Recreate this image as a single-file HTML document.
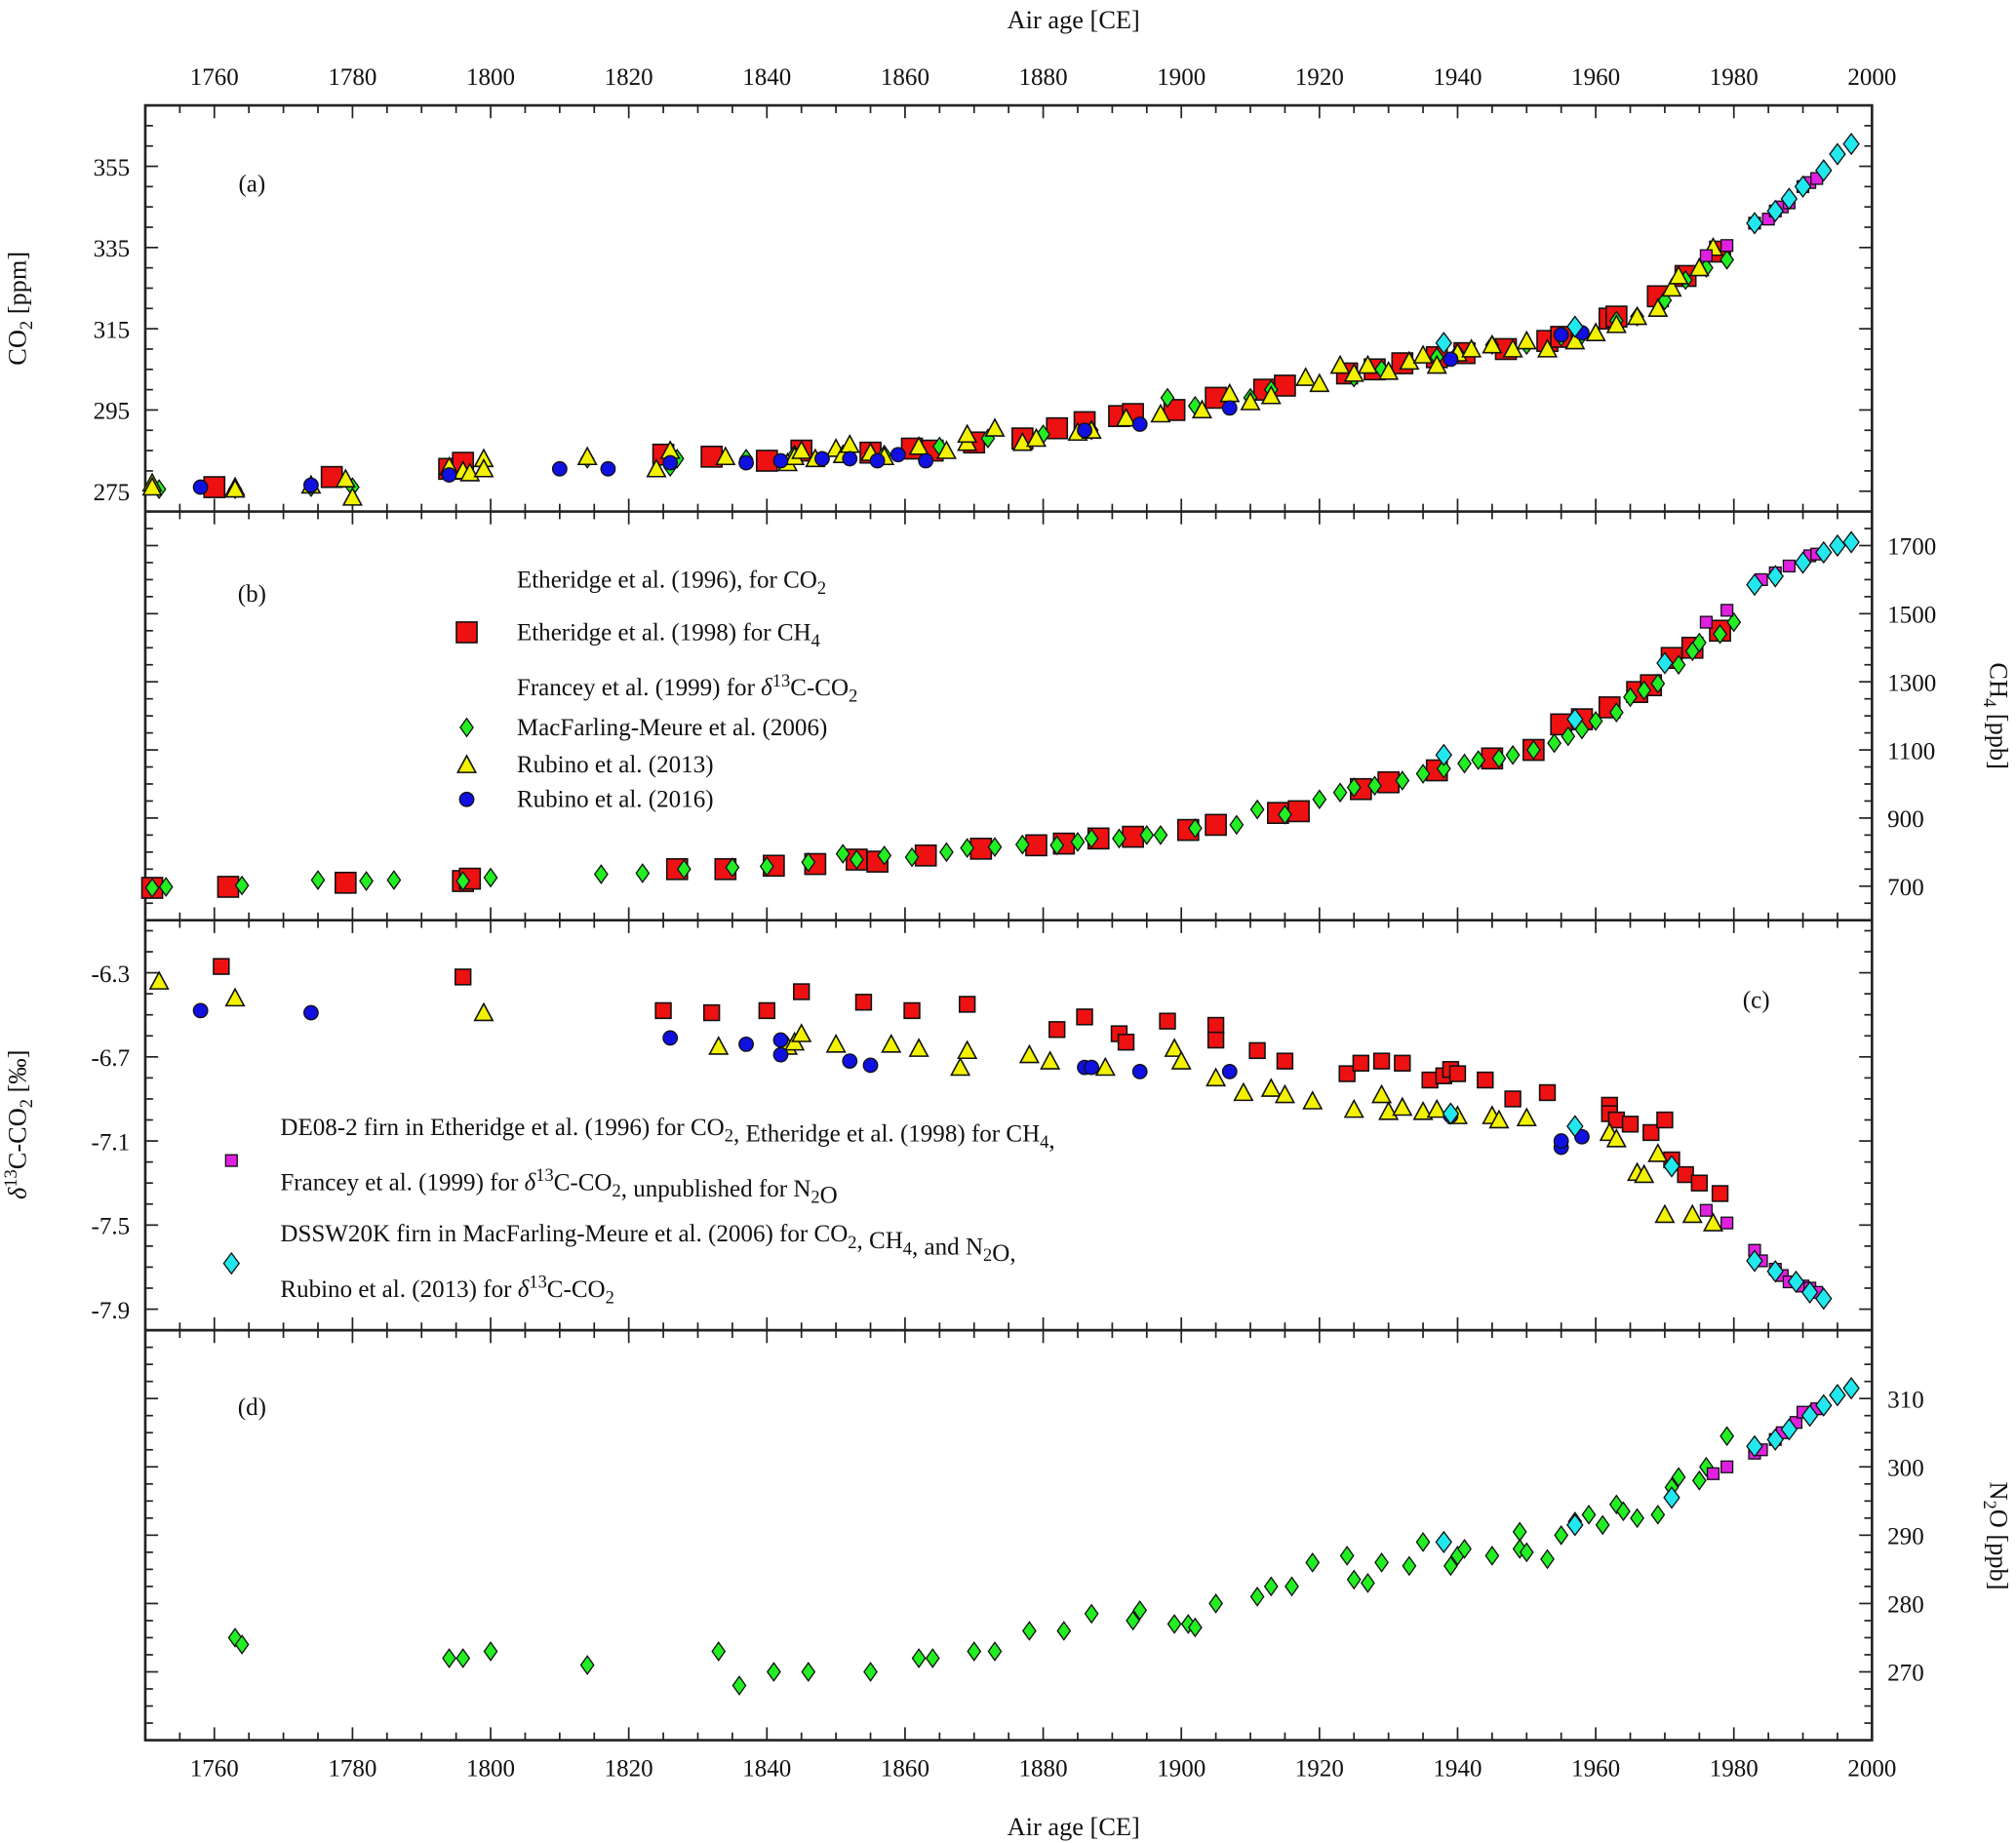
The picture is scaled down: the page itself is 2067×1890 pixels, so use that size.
<!DOCTYPE html>
<html><head><meta charset="utf-8"><style>
html,body{margin:0;padding:0;background:#fff;}
svg{display:block;font-family:"Liberation Serif",serif;}
</style></head><body>
<svg id="chart" width="2067" height="1890" viewBox="0 0 1568 1434" preserveAspectRatio="none" xmlns="http://www.w3.org/2000/svg">
<rect x="0" y="0" width="1568" height="1434" fill="#fff"/>
<g id="layer"></g>
</svg>
<script>
// ---- data ----
const aRedX=[1760,1777,1794,1796,1825,1832,1840,1845,1855,1861,1864,1870,1877,1882,1886,1891,1893,1899,1905,1912,1915,1924,1928,1932,1937,1941,1947,1953,1955,1962,1963,1969,1973,1978];
const aRedY=[276,278.5,280.5,282,284,283.5,282.5,285,284.5,285.5,285,287,288,290.5,292,293.5,294,295,298,300,301,304,305,306.5,308,309,310,312,313,317.5,318,323,328,334];
const aYelX=[1751,1751,1763,1763,1774,1779,1780,1794,1796,1797,1799,1799,1814,1824,1826,1834,1843,1844,1845,1847,1850,1851,1852,1855,1857,1862,1866,1869,1869,1873,1877,1879,1885,1887,1892,1897,1903,1907,1910,1913,1918,1920,1923,1925,1927,1930,1933,1935,1937,1940,1942,1945,1948,1950,1953,1957,1960,1963,1966,1969,1971,1972,1975,1977];
const aYelY=[277,276,276,275.5,276.5,278,273.5,281,280,279.5,283,280.5,283.5,280.5,285,283.5,282,283.5,285,283,285.5,284,286.5,284.5,283.5,286,285,287,289,290.5,287,288,289.5,290,293,294,295,299,297,298.5,303,301.5,306,304,306,304.5,307,308.5,306,309,310,311,310,312,310,312,314,316,318,320,325,328,330,335];
const aGrnX=[1752,1763,1774,1780,1814,1826,1827,1837,1844,1852,1857,1865,1872,1880,1887,1898,1902,1910,1913,1925,1929,1937,1940,1945,1950,1955,1958,1963,1966,1970,1973,1976,1979];
const aGrnY=[275.5,275.5,276,276,283,281,283,283,284,285,284,286,288,289,290,298,296,298,300,303,305,308,309,311,311,313,313.5,317,318,322,327,330,332];
const aBluX=[1758,1774,1794,1810,1817,1826,1837,1842,1848,1852,1856,1859,1863,1886,1894,1907,1939,1955,1958];
const aBluY=[276,276.5,279,280.5,280.5,282,282,282.5,283,283,282.5,284,282.5,290,291.5,295.5,307.5,313.5,314];
const aCyaX=[1938,1957,1983,1986,1988,1990,1993,1995,1997];
const aCyaY=[311.5,315.5,341,344,347,350,354,358,360.5];
const aMagX=[1976,1979,1983,1985,1986,1987,1988,1990,1991,1992];
const aMagY=[333,335.5,341,342,344,345,346,350,351,352];

const bRedX=[1751,1762,1779,1796,1797,1827,1834,1841,1847,1853,1856,1863,1871,1879,1883,1888,1893,1901,1905,1914,1917,1926,1930,1937,1945,1951,1955,1958,1962,1966,1968,1971,1974,1978];
const bRedY=[695,698,710,715,722,750,750,760,765,778,772,790,810,820,825,840,845,865,880,915,920,985,1005,1040,1075,1100,1175,1190,1225,1270,1290,1370,1400,1450];
const bGrnX=[1751,1753,1764,1775,1782,1786,1796,1800,1816,1822,1828,1835,1840,1846,1851,1853,1857,1861,1866,1869,1873,1877,1882,1885,1887,1891,1895,1897,1902,1908,1911,1915,1920,1923,1925,1928,1932,1935,1938,1941,1943,1946,1948,1951,1954,1956,1958,1960,1963,1965,1967,1969,1972,1974,1975,1978,1980];
const bGrnY=[695,698,702,718,715,718,715,725,735,738,750,755,758,770,795,778,790,785,800,812,815,822,820,830,840,840,850,850,870,880,925,910,955,975,990,995,1010,1030,1045,1060,1070,1075,1085,1100,1120,1140,1160,1185,1210,1255,1275,1295,1350,1390,1415,1440,1475];
const bCyaX=[1938,1957,1970,1983,1986,1990,1993,1995,1997];
const bCyaY=[1085,1190,1355,1585,1610,1650,1680,1700,1710];
const bMagX=[1976,1979,1984,1986,1988,1991,1992];
const bMagY=[1475,1510,1600,1620,1640,1670,1675];

const cRedX=[1761,1796,1825,1832,1840,1845,1854,1861,1869,1882,1886,1891,1892,1898,1905,1905,1911,1915,1924,1926,1929,1932,1936,1938,1939,1940,1944,1948,1953,1962,1962,1963,1965,1968,1970,1971,1973,1975,1978];
const cRedY=[-6.27,-6.32,-6.48,-6.49,-6.48,-6.39,-6.44,-6.48,-6.45,-6.57,-6.51,-6.59,-6.63,-6.53,-6.55,-6.62,-6.67,-6.72,-6.78,-6.73,-6.72,-6.73,-6.81,-6.79,-6.76,-6.78,-6.81,-6.90,-6.87,-6.93,-6.97,-7.0,-7.02,-7.06,-7.0,-7.19,-7.26,-7.30,-7.35];
const cYelX=[1752,1763,1799,1833,1843,1844,1845,1850,1858,1862,1868,1869,1878,1881,1889,1899,1900,1905,1909,1913,1915,1919,1925,1929,1930,1932,1935,1937,1940,1945,1946,1950,1962,1963,1966,1967,1969,1970,1974,1977];
const cYelY=[-6.34,-6.42,-6.49,-6.65,-6.65,-6.63,-6.59,-6.64,-6.64,-6.66,-6.75,-6.67,-6.69,-6.72,-6.75,-6.66,-6.72,-6.80,-6.87,-6.85,-6.88,-6.91,-6.95,-6.88,-6.96,-6.94,-6.96,-6.95,-6.98,-6.98,-7.0,-6.99,-7.06,-7.09,-7.25,-7.26,-7.16,-7.45,-7.45,-7.49];
const cBluX=[1758,1774,1826,1837,1842,1842,1852,1855,1886,1887,1894,1907,1939,1955,1955,1958];
const cBluY=[-6.48,-6.49,-6.61,-6.64,-6.62,-6.69,-6.72,-6.74,-6.75,-6.75,-6.77,-6.77,-6.98,-7.13,-7.1,-7.08];
const cCyaX=[1939,1957,1971,1983,1986,1989,1991,1993];
const cCyaY=[-6.97,-7.03,-7.22,-7.67,-7.72,-7.77,-7.82,-7.85];
const cMagX=[1976,1979,1983,1984,1986,1987,1988,1990,1991,1992];
const cMagY=[-7.43,-7.49,-7.62,-7.67,-7.71,-7.74,-7.77,-7.79,-7.80,-7.82];

const dGrnX=[1763,1764,1794,1796,1800,1814,1833,1836,1841,1846,1855,1862,1864,1870,1873,1878,1883,1887,1893,1894,1899,1901,1902,1905,1911,1913,1916,1919,1924,1925,1927,1929,1933,1935,1939,1940,1941,1945,1949,1949,1950,1953,1955,1957,1959,1961,1963,1964,1966,1969,1971,1972,1975,1976,1979];
const dGrnY=[275,274,272,272,273,271,273,268,270,270,270,272,272,273,273,276,276,278.5,277.5,279,277,277,276.5,280,281,282.5,282.5,286,287,283.5,283,286,285.5,289,285.5,287,288,287,290.5,288,287.5,286.5,290,292,293,291.5,294.5,293.5,292.5,293,297,298.5,298,300,304.5];
const dCyaX=[1938,1957,1971,1983,1986,1988,1991,1993,1995,1997];
const dCyaY=[289,291.5,295.5,303,304,305.5,307.5,309,310.5,311.5];
const dMagX=[1977,1979,1983,1984,1986,1987,1989,1990,1992];
const dMagY=[299,300,302,302.5,304,305,306.5,308,308.5];

const xTickLabels=[1760,1780,1800,1820,1840,1860,1880,1900,1920,1940,1960,1980,2000];
const aTicks=[275,295,315,335,355];
const bTicks=[700,900,1100,1300,1500,1700];
const cTicks=[-6.3,-6.7,-7.1,-7.5,-7.9];
const dTicks=[270,280,290,300,310];

// ---- layout ----
const NS="http://www.w3.org/2000/svg";
const L=113,R=1456;
const X=y=>L+(y-1750)*(R-L)/250;
const panels={
 a:{t:82,b:398,min:270,max:370},
 b:{t:398,b:716,min:600,max:1800},
 c:{t:716,b:1035,min:-8.0,max:-6.05},
 d:{t:1035,b:1354,min:260,max:320}
};
function Yf(p){return v=>p.b-(v-p.min)*(p.b-p.t)/(p.max-p.min);}
const layer=document.getElementById('layer');
function el(tag,attrs,parent){const e=document.createElementNS(NS,tag);for(const k in attrs)e.setAttribute(k,attrs[k]);(parent||layer).appendChild(e);return e;}
function text(x,y,s,anchor,size,parent){const t=el('text',{x:x,y:y,'text-anchor':anchor||'middle','font-size':size||19,fill:'#111'},parent);t.innerHTML=s;return t;}

// frame
const frame=el('rect',{x:L,y:82,width:R-L,height:1354-82,fill:'none',stroke:'#222','stroke-width':2});


['b','c','d'].forEach(k=>{const ln=el('line',{x1:L,x2:R,y1:panels[k].t,y2:panels[k].t,stroke:'#222','stroke-width':2});

});

// x ticks at each boundary
const xt=el('g',{stroke:'#222','stroke-width':1.3});


const bounds=[82,398,716,1035,1354];
for(let yr=1755;yr<=2000;yr+=5){const x=X(yr);const major=yr%20===0;const len=major?10:6;
 bounds.forEach((by,i)=>{if(i<4)el('line',{x1:x,x2:x,y1:by,y2:by+len},xt);if(i>0)el('line',{x1:x,x2:x,y1:by-len,y2:by},xt);});}
const xlT=el('g',{});


const xlB=el('g',{});


xTickLabels.forEach(v=>{text(X(v),66,v,'middle',19,xlT);text(X(v),1382,v,'middle',19,xlB);});
const tt=text(835,22,'Air age [CE]','middle',20);


const bt=text(835,1428,'Air age [CE]','middle',20);



// y axes
function yAxis(p,ticks,minorStep,side,fmt,name){
 const Y=Yf(p);const g=el('g',{stroke:'#222','stroke-width':1.3});
 
 
 const lg=el('g',{});
 
 
 const start=ticks[0];const step=ticks[1]-ticks[0];
 for(let k=-40;k<=80;k++){const v=start+k*minorStep*Math.sign(step);const y=Y(v);if(y<=p.t+1||y>=p.b-1)continue;
  const isMaj=Math.abs(((v-start)/step)-Math.round((v-start)/step))<1e-6;const len=isMaj?10:6;
  el('line',{x1:L,x2:L+len,y1:y,y2:y},g);el('line',{x1:R-len,x2:R,y1:y,y2:y},g);}
 ticks.forEach(v=>{const y=Y(v)+7;if(side==='left')text(L-12,y,fmt(v),'end',19,lg);else text(R+12,y,fmt(v),'start',19,lg);});
}
yAxis(panels.a,aTicks,5,'left',v=>v,'co2-axis');
yAxis(panels.b,bTicks,50,'right',v=>v,'ch4-axis');
yAxis(panels.c,cTicks,0.1,'left',v=>v.toFixed(1),'d13c-axis');
yAxis(panels.d,dTicks,2.5,'right',v=>v,'n2o-axis');

function rotLabel(x,y,ang,html,name){const t=el('text',{x:0,y:0,'text-anchor':'middle','font-size':20,fill:'#111',transform:`translate(${x},${y}) rotate(${ang})`});t.innerHTML=html;
 
 }
rotLabel(20,240,-90,'CO<tspan font-size="14" dy="5">2</tspan><tspan dy="-5"> [ppm]</tspan>','co2-axis-title');
rotLabel(20,875,-90,'<tspan font-style="italic">δ</tspan><tspan font-size="14" dy="-7">13</tspan><tspan dy="7">C-CO</tspan><tspan font-size="14" dy="5">2</tspan><tspan dy="-5"> [‰]</tspan>','d13c-axis-title');
rotLabel(1548,557,90,'CH<tspan font-size="14" dy="5">4</tspan><tspan dy="-5"> [ppb]</tspan>','ch4-axis-title');
rotLabel(1548,1195,90,'N<tspan font-size="14" dy="5">2</tspan><tspan dy="-5">O [ppb]</tspan>','n2o-axis-title');

// panel letters
[['(a)',196,149],['(b)',196,468],['(c)',1366,784],['(d)',196,1101]].forEach(([s,x,y])=>{const t=text(x,y,s,'middle',19);
 
 });

// markers
function mk(type,x,y,sz,parent){
 if(type==='red')return el('rect',{x:x-sz/2,y:y-sz/2,width:sz,height:sz,fill:'#ee1111',stroke:'#111','stroke-width':1.2},parent);
 if(type==='mag')return el('rect',{x:x-4.5,y:y-4.5,width:9,height:9,fill:'#e020e0',stroke:'#111','stroke-width':1},parent);
 if(type==='yel')return el('polygon',{points:`${x-7},${y+6} ${x+7},${y+6} ${x},${y-7}`,fill:'#f2f200',stroke:'#111','stroke-width':1.2},parent);
 if(type==='grn')return el('polygon',{points:`${x},${y-7} ${x+5},${y} ${x},${y+7} ${x-5},${y}`,fill:'#22ee22',stroke:'#111','stroke-width':1},parent);
 if(type==='cya')return el('polygon',{points:`${x},${y-8} ${x+6},${y} ${x},${y+8} ${x-6},${y}`,fill:'#22e8ee',stroke:'#111','stroke-width':1},parent);
 if(type==='blu')return el('circle',{cx:x,cy:y,r:5.5,fill:'#1010e0',stroke:'#111','stroke-width':1},parent);
}
function series(p,type,xs,ys,sz,name){const Y=Yf(p);const g=el('g',{});
 
 
 xs.forEach((v,i)=>{const m=mk(type,X(v),Y(ys[i]),sz,g);
  
  });}
series(panels.a,'red',aRedX,aRedY,16,'co2-etheridge1996');
series(panels.a,'grn',aGrnX,aGrnY,0,'co2-macfarling2006');
series(panels.a,'yel',aYelX,aYelY,0,'co2-rubino2013');
series(panels.a,'blu',aBluX,aBluY,0,'co2-rubino2016');
series(panels.a,'mag',aMagX,aMagY,0,'co2-de08-2');
series(panels.a,'cya',aCyaX,aCyaY,0,'co2-dssw20k');
series(panels.b,'red',bRedX,bRedY,16,'ch4-etheridge1998');
series(panels.b,'grn',bGrnX,bGrnY,0,'ch4-macfarling2006');
series(panels.b,'mag',bMagX,bMagY,0,'ch4-de08-2');
series(panels.b,'cya',bCyaX,bCyaY,0,'ch4-dssw20k');
series(panels.c,'red',cRedX,cRedY,12,'d13c-francey1999');
series(panels.c,'yel',cYelX,cYelY,0,'d13c-rubino2013');
series(panels.c,'blu',cBluX,cBluY,0,'d13c-rubino2016');
series(panels.c,'mag',cMagX,cMagY,0,'d13c-de08-2');
series(panels.c,'cya',cCyaX,cCyaY,0,'d13c-dssw20k');
series(panels.d,'grn',dGrnX,dGrnY,0,'n2o-macfarling2006');
series(panels.d,'mag',dMagX,dMagY,0,'n2o-de08-2');
series(panels.d,'cya',dCyaX,dCyaY,0,'n2o-dssw20k');

// legend (b)
const lgB=el('g',{});


const sub=s=>`<tspan font-size="14" dy="5">${s}</tspan><tspan dy="-5"></tspan>`;
const d13=`<tspan font-style="italic">δ</tspan><tspan font-size="14" dy="-7">13</tspan><tspan dy="7">C-CO</tspan>`+sub('2');
[[457,null,'Etheridge et al. (1996), for CO'+sub('2')],[498,'red','Etheridge et al. (1998) for CH'+sub('4')],[541,null,'Francey et al. (1999) for '+d13],[572,'grn','MacFarling-Meure et al. (2006)'],[601,'yel','Rubino et al. (2013)'],[628,'blu','Rubino et al. (2016)']].forEach(([y,t,s])=>{
 if(t){const m=mk(t,363,y-6,16,lgB);}
 const tx=text(402,y,s,'start',19,lgB);
 
 });
// legend (c)
const lgC=el('g',{});


const m1=mk('mag',180,903,0,lgC);


const m2=mk('cya',180,983,0,lgC);


[[883,'DE08-2 firn in Etheridge et al. (1996) for CO'+sub('2')+', Etheridge et al. (1998) for CH'+sub('4')+','],
 [926,'Francey et al. (1999) for '+d13+', unpublished for N'+sub('2')+'O'],
 [966,'DSSW20K firn in MacFarling-Meure et al. (2006) for CO'+sub('2')+', CH'+sub('4')+', and N'+sub('2')+'O,'],
 [1009,'Rubino et al. (2013) for '+d13]].forEach(([y,s])=>{const tx=text(218,y,s,'start',19,lgC);
 
 });
</script>
</body></html>
